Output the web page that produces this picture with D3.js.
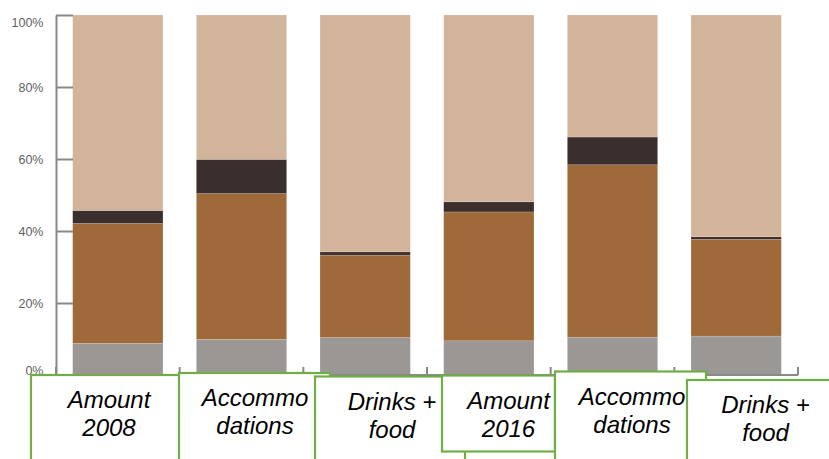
<!DOCTYPE html>
<html>
<head>
<meta charset="utf-8">
<script src="https://cdn.jsdelivr.net/npm/d3@7"></script>
<style>
  html, body { margin: 0; padding: 0; background: #fff; }
  svg { display: block; }
</style>
</head>
<body>
<svg id="chart" width="829" height="459"></svg>
<script>
// Spending shares (% of total), stacked bottom to top
const categories = ["Amount 2008", "Accommodations 2008", "Drinks + food 2008",
                    "Amount 2016", "Accommodations 2016", "Drinks + food 2016"];
const categoryLabels = [["Amount", "2008"], ["Accommo", "dations"], ["Drinks +", "food"],
                        ["Amount", "2016"], ["Accommo", "dations"], ["Drinks +", "food"]];
const seriesNames = ["grey", "brown", "dark", "tan"];
const greyValues  = [8.8, 9.9, 10.4, 9.5, 10.5, 10.8];
const brownValues = [33.3, 40.5, 22.9, 35.8, 47.9, 26.9];
const darkValues  = [3.6, 9.5, 0.9, 2.8, 7.7, 0.7];
const tanValues   = [54.3, 40.1, 65.8, 51.9, 33.9, 61.6];
const yTicks = [0, 20, 40, 60, 80, 100];

const colors = { grey: "#9b9795", brown: "#a0693a", dark: "#3a2f2d", tan: "#d2b49b" };

const rows = categories.map((c, i) => ({
  category: c,
  grey: greyValues[i], brown: brownValues[i], dark: darkValues[i], tan: tanValues[i]
}));

const svg = d3.select("#chart");

const x = d3.scaleBand()
  .domain(categories)
  .range([56, 798])
  .paddingInner(0.27)
  .paddingOuter(0.135);

const y = d3.scaleLinear().domain([0, 100]).range([375, 15]);

const stacked = d3.stack().keys(seriesNames)(rows);

// stacked bars
svg.append("g").selectAll("g")
  .data(stacked)
  .join("g")
    .attr("fill", d => colors[d.key])
  .selectAll("rect")
  .data(d => d)
  .join("rect")
    .attr("x", d => x(d.data.category))
    .attr("width", x.bandwidth())
    .attr("y", d => y(d[1]))
    .attr("height", d => y(d[0]) - y(d[1]))
    .attr("stroke", "rgba(255,255,255,0.25)")
    .attr("stroke-width", 0.6);

// y axis, ticks pointing into the plot
const yAxis = svg.append("g")
  .attr("transform", "translate(56,0)")
  .call(d3.axisLeft(y)
    .tickValues(yTicks)
    .tickFormat(d => d + "%")
    .tickSize(-17)
    .tickSizeOuter(0)
    .tickPadding(12.5));
yAxis.select(".domain").attr("stroke", "#8a8888").attr("stroke-width", 2);
yAxis.selectAll(".tick line").attr("stroke", "#8a8888").attr("stroke-width", 2);
yAxis.selectAll(".tick text")
  .attr("fill", "#5f5f5f")
  .attr("font-family", "Liberation Sans, Arial, sans-serif")
  .attr("font-size", 12.5)
  .attr("dy", d => d === 100 ? "0.9em" : d === 0 ? "-0.05em" : "0.32em");

// x baseline with category separators
const step = x.step();
const xAxis = svg.append("g").attr("stroke", "#8a8888").attr("stroke-width", 2);
xAxis.append("line")
  .attr("x1", x.range()[0]).attr("x2", x.range()[1])
  .attr("y1", y(0)).attr("y2", y(0));
xAxis.selectAll("line.sep")
  .data(d3.range(categories.length + 1))
  .join("line")
    .attr("class", "sep")
    .attr("x1", i => x.range()[0] + i * step)
    .attr("x2", i => x.range()[0] + i * step)
    .attr("y1", y(0) - 8)
    .attr("y2", y(0));

// category label boxes
const boxes = [
  { x: 31,  y: 375,   w: 149, h: 110, cx: 109 },
  { x: 179, y: 373,   w: 151, h: 110, cx: 255 },
  { x: 315, y: 376.5, w: 150, h: 110, cx: 392 },
  { x: 442, y: 375.5, w: 113, h: 76,  cx: 508.5 },
  { x: 555, y: 371.5, w: 151, h: 110, cx: 632 },
  { x: 687, y: 380,   w: 160, h: 110, cx: 765.5 }
];

const labelGroups = svg.append("g").selectAll("g")
  .data(categoryLabels)
  .join("g");

labelGroups.append("rect")
  .attr("x", (d, i) => boxes[i].x)
  .attr("y", (d, i) => boxes[i].y)
  .attr("width", (d, i) => boxes[i].w)
  .attr("height", (d, i) => boxes[i].h)
  .attr("fill", "#fff")
  .attr("stroke", "#70ad47")
  .attr("stroke-width", 2.2);

labelGroups.append("text")
  .attr("text-anchor", "middle")
  .attr("font-family", "Liberation Sans, Arial, sans-serif")
  .attr("font-style", "italic")
  .attr("font-size", 24)
  .attr("fill", "#000")
  .each(function(lines, i) {
    const t = d3.select(this);
    lines.forEach((ln, k) => {
      t.append("tspan")
        .attr("x", boxes[i].cx)
        .attr("y", boxes[i].y + 33 + k * 28)
        .text(ln);
    });
  });
</script>
</body>
</html>
